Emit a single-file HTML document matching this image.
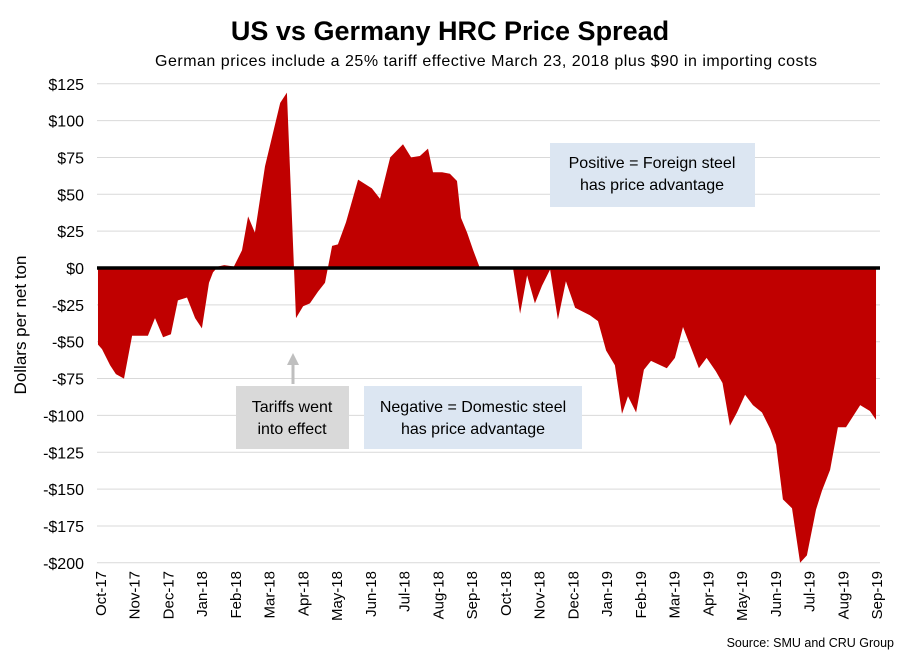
<!DOCTYPE html>
<html><head><meta charset="utf-8"><style>
body{margin:0;background:#fff}
svg{font-family:"Liberation Sans","DejaVu Sans",sans-serif}
</style></head><body>
<svg id="c" width="909" height="660">
<text x="450" y="40" text-anchor="middle" font-size="27" font-weight="bold">US vs Germany HRC Price Spread</text>
<text x="486" y="66" text-anchor="middle" font-size="16" textLength="662">German prices include a 25% tariff effective March 23, 2018 plus $90 in importing costs</text>
<text transform="translate(26,325) rotate(-90)" text-anchor="middle" font-size="17">Dollars per net ton</text>
<g id="grid"></g><g id="area"></g><g id="xl"></g>
<rect x="550" y="143" width="205" height="64" fill="#dce6f2"/>
<text x="652" y="168" text-anchor="middle" font-size="16"><tspan x="652">Positive = Foreign steel</tspan><tspan x="652" dy="22">has price advantage</tspan></text>
<rect x="364" y="386" width="218" height="63" fill="#dce6f2"/>
<text x="473" y="412" text-anchor="middle" font-size="16"><tspan x="473">Negative = Domestic steel</tspan><tspan x="473" dy="22">has price advantage</tspan></text>
<rect x="236" y="386" width="113" height="63" fill="#d9d9d9"/>
<text x="292" y="412" text-anchor="middle" font-size="16"><tspan x="292">Tariffs went</tspan><tspan x="292" dy="22">into effect</tspan></text>
<line x1="293" y1="384" x2="293" y2="364" stroke="#bfbfbf" stroke-width="3"/>
<polygon points="287,365 299,365 293,353" fill="#bfbfbf"/>
<text x="894" y="647" text-anchor="end" font-size="12.5">Source: SMU and CRU Group</text>
</svg>
<script>
const months=["Oct-17","Nov-17","Dec-17","Jan-18","Feb-18","Mar-18","Apr-18","May-18","Jun-18","Jul-18","Aug-18","Sep-18","Oct-18","Nov-18","Dec-18","Jan-19","Feb-19","Mar-19","Apr-19","May-19","Jun-19","Jul-19","Aug-19","Sep-19"];
const yTicks=[125,100,75,50,25,0,-25,-50,-75,-100,-125,-150,-175,-200];
const tMonth=[-0.06,0.06,0.30,0.47,0.71,0.95,1.42,1.63,1.87,2.10,2.31,2.58,2.82,3.02,3.23,3.35,3.50,3.68,3.97,4.21,4.39,4.59,4.89,5.34,5.54,5.81,6.02,6.22,6.46,6.67,6.88,7.05,7.29,7.65,8.06,8.30,8.60,8.98,9.22,9.48,9.72,9.87,10.14,10.37,10.58,10.70,10.88,11.06,11.26,12.24,12.45,12.66,12.89,13.10,13.34,13.57,13.81,14.08,14.52,14.76,15.00,15.26,15.47,15.65,15.89,16.12,16.33,16.80,17.04,17.28,17.75,17.98,18.25,18.45,18.67,18.88,19.12,19.35,19.62,19.86,20.04,20.24,20.51,20.75,20.95,21.22,21.40,21.64,21.87,22.11,22.53,22.82,23.00];
const spread=[-52,-55,-66,-72,-75,-46,-46,-34,-47,-45,-22,-20,-34,-41,-10,-3,1,2,1,12,35,24,69,112,119,-34,-26,-24,-16,-10,15,16,31,60,54,47,75,84,75,76,81,65,65,64,59,34,24,12,0,0,-31,-5,-24,-12,-1,-35,-9,-27,-32,-36,-56,-66,-99,-87,-98,-69,-63,-68,-61,-40,-68,-61,-70,-78,-107,-98,-86,-93,-98,-109,-120,-157,-163,-200,-195,-164,-151,-137,-108,-108,-93,-97,-103];
const NS="http://www.w3.org/2000/svg";
const X=m=>100+m*33.74, Y=v=>268-v*36.85/25;
const grid=document.getElementById('grid');
yTicks.forEach(v=>{
 const l=document.createElementNS(NS,'line');
 l.setAttribute('x1',97);l.setAttribute('x2',880);l.setAttribute('y1',Y(v));l.setAttribute('y2',Y(v));
 l.setAttribute('stroke','#d9d9d9');l.setAttribute('stroke-width',1);
 
 
 grid.appendChild(l);
 const t=document.createElementNS(NS,'text');
 t.setAttribute('x',84);t.setAttribute('y',Y(v)+6);t.setAttribute('text-anchor','end');t.setAttribute('font-size',16);
 t.textContent=(v<0?'-$':'$')+Math.abs(v);
 
 
 grid.appendChild(t);
});
let d='M'+X(tMonth[0])+','+Y(0);
tMonth.forEach((m,i)=>{d+=' L'+X(m).toFixed(1)+','+Y(spread[i]).toFixed(1);});
d+=' L'+X(tMonth[tMonth.length-1])+','+Y(0)+'Z';
const p=document.createElementNS(NS,'path');
p.setAttribute('d',d);p.setAttribute('fill','#c00000');


document.getElementById('area').appendChild(p);
const z=document.createElementNS(NS,'line');
z.setAttribute('x1',97);z.setAttribute('x2',880);z.setAttribute('y1',Y(0));z.setAttribute('y2',Y(0));
z.setAttribute('stroke','#000');z.setAttribute('stroke-width',3.5);


document.getElementById('area').appendChild(z);
const xl=document.getElementById('xl');
months.forEach((m,i)=>{
 const t=document.createElementNS(NS,'text');
 t.setAttribute('transform','translate('+(X(i)+6)+',571) rotate(-90)');
 t.setAttribute('text-anchor','end');t.setAttribute('font-size',15);
 t.textContent=m;
 
 
 xl.appendChild(t);
});
</script>
</body></html>
